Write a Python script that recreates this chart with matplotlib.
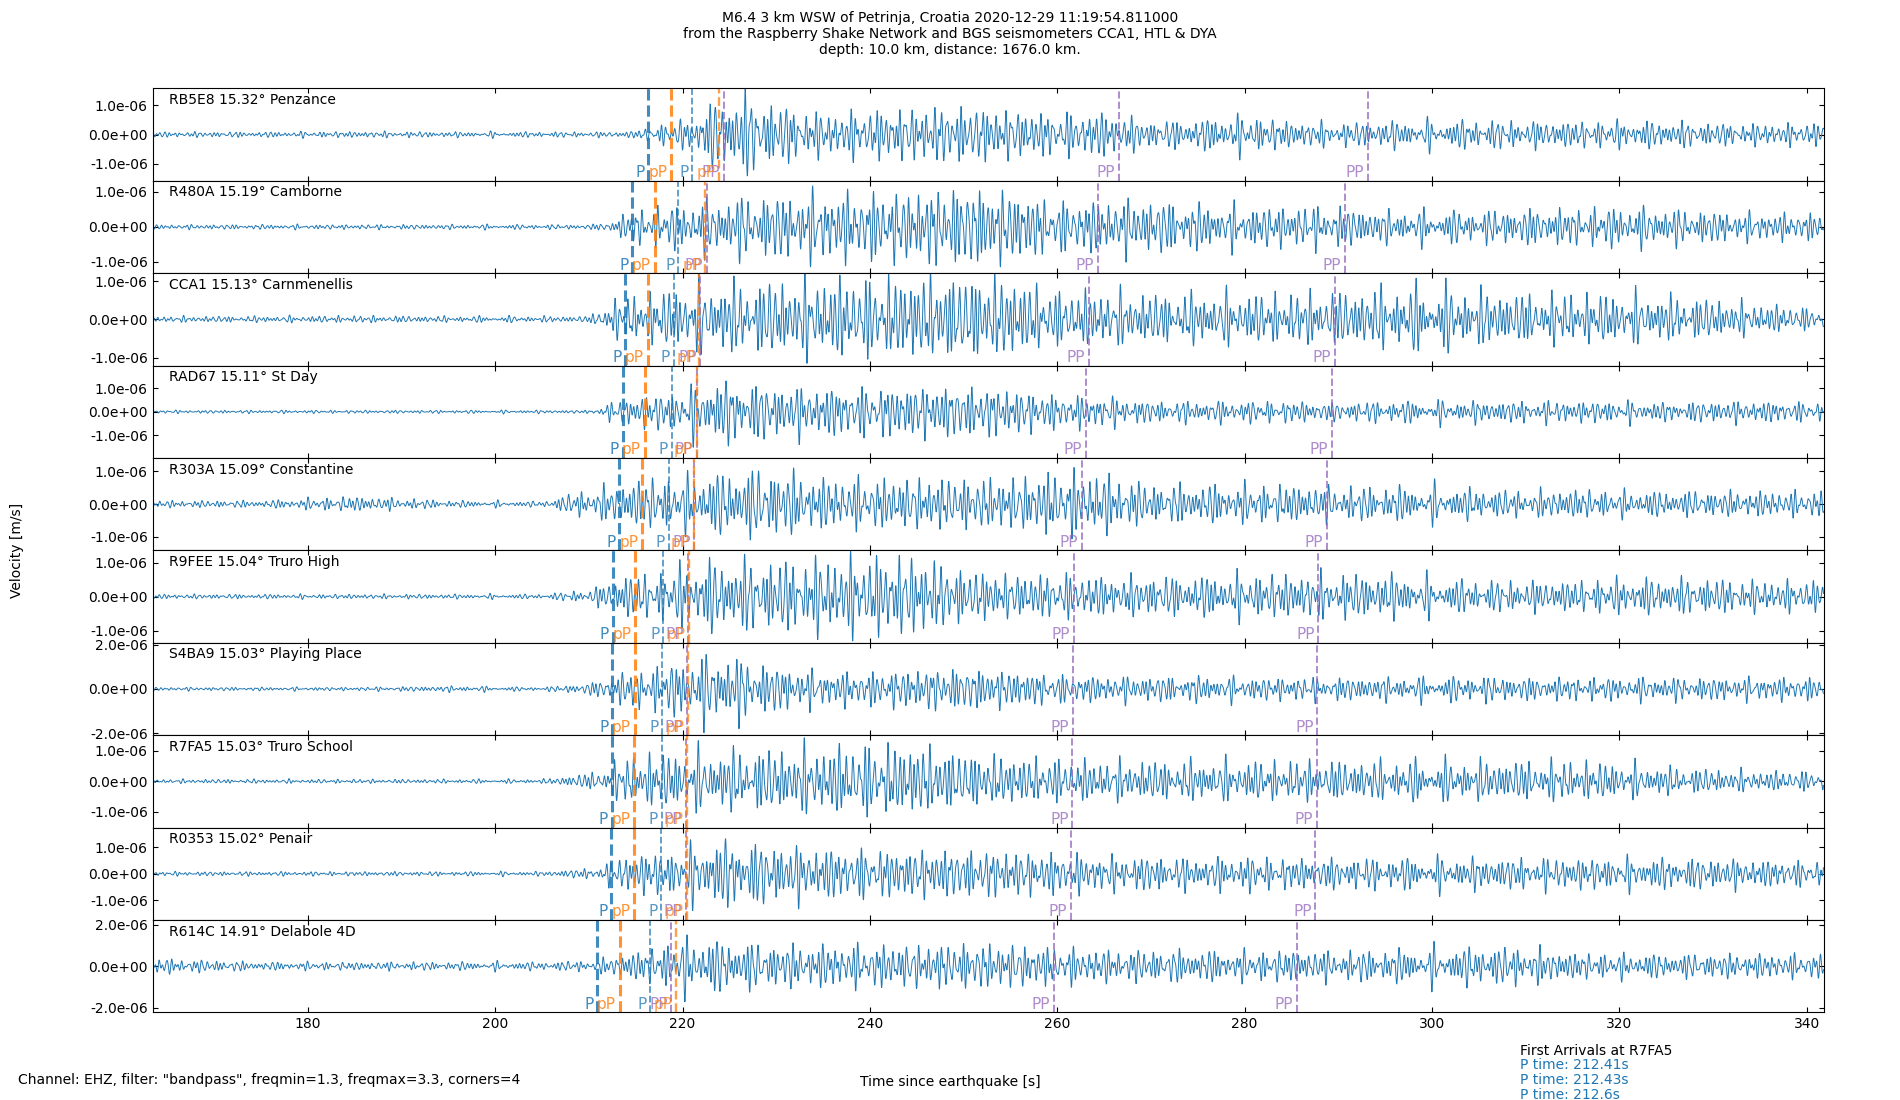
import numpy as np
import matplotlib
matplotlib.use('Agg')
import matplotlib.pyplot as plt
from matplotlib.ticker import FormatStrFormatter


# stations, top to bottom
stations = ['RB5E8', 'R480A', 'CCA1', 'RAD67', 'R303A', 'R9FEE', 'S4BA9', 'R7FA5', 'R0353', 'R614C']
distances = [15.32, 15.19, 15.13, 15.11, 15.09, 15.04, 15.03, 15.03, 15.02, 14.91]
places = ['Penzance', 'Camborne', 'Carnmenellis', 'St Day', 'Constantine', 'Truro High',
          'Playing Place', 'Truro School', 'Penair', 'Delabole 4D']

# y limits (+/- value, m/s) and y tick step of each panel
y_limits = [1.58e-6, 1.32e-6, 1.21e-6, 1.96e-6, 1.41e-6, 1.36e-6, 2.09e-6, 1.52e-6, 1.74e-6, 2.23e-6]
y_steps = [1e-6, 1e-6, 1e-6, 1e-6, 1e-6, 1e-6, 2e-6, 1e-6, 1e-6, 2e-6]

# predicted arrival times [s]
p_first = [216.31, 214.61, 213.86, 213.60, 213.22, 212.54, 212.48, 212.44, 212.37, 210.88]
pp_depth_first = [218.76, 217.01, 216.27, 215.95, 215.70, 214.96, 214.88, 214.85, 214.82, 213.29]
p_second = [221.05, 219.56, 219.03, 218.82, 218.54, 217.94, 217.83, 217.76, 217.72, 216.52]
pp_depth_second = [223.89, 222.44, 221.80, 221.52, 221.20, 220.67, 220.60, 220.52, 220.50, 219.32]
pp_early = [224.43, 222.59, 221.90, 221.55, 221.25, 220.56, 220.45, 220.38, 220.38, 218.79]
pp_mid = [266.55, 264.32, 263.37, 263.05, 262.59, 261.74, 261.63, 261.60, 261.45, 259.60]
pp_late = [293.15, 290.73, 289.66, 289.34, 288.81, 287.86, 287.75, 287.68, 287.54, 285.56]

# first arrivals listed for the reference station
ref_station = 'R7FA5'
ref_p_times = [212.41, 212.43, 212.6]

# amplitude envelope (units of 1e-6 m/s) at these times
env_times = [163, 175, 185, 195, 205, 210, 212, 214, 216, 218, 220, 223, 226, 230, 235, 240, 245, 250,
             255, 260, 265, 270, 275, 280, 285, 290, 295, 300, 305, 310, 315, 320, 325, 330, 335, 342]
env_rb5e8 = [0.07, 0.07, 0.08, 0.07, 0.07, 0.07, 0.07, 0.08, 0.15, 0.3, 0.35, 0.8, 1.1, 0.8, 0.55, 0.65, 0.7, 0.75,
             0.65, 0.55, 0.6, 0.35, 0.4, 0.5, 0.35, 0.3, 0.35, 0.35, 0.38, 0.35, 0.35, 0.35, 0.35, 0.3, 0.28, 0.3]
env_r480a = [0.05, 0.05, 0.05, 0.05, 0.05, 0.05, 0.1, 0.3, 0.45, 0.45, 0.5, 0.6, 0.65, 0.7, 0.75, 0.75, 0.8, 0.9,
             0.8, 0.55, 0.6, 0.6, 0.5, 0.45, 0.45, 0.45, 0.35, 0.35, 0.35, 0.4, 0.4, 0.45, 0.4, 0.35, 0.3, 0.3]
env_cca1 = [0.06, 0.06, 0.07, 0.06, 0.06, 0.06, 0.3, 0.45, 0.5, 0.55, 0.65, 0.7, 0.7, 0.75, 0.8, 0.8, 0.85, 0.85,
            0.8, 0.55, 0.55, 0.5, 0.5, 0.5, 0.5, 0.55, 0.6, 0.65, 0.55, 0.5, 0.5, 0.5, 0.45, 0.4, 0.3, 0.2]
env_rad67 = [0.05, 0.05, 0.05, 0.05, 0.05, 0.05, 0.25, 0.45, 0.55, 0.6, 0.7, 1.0, 1.0, 0.85, 0.8, 0.8, 0.85, 0.85,
             0.75, 0.55, 0.5, 0.35, 0.35, 0.35, 0.35, 0.3, 0.35, 0.35, 0.35, 0.35, 0.35, 0.35, 0.3, 0.35, 0.35, 0.3]
env_r303a = [0.08, 0.08, 0.18, 0.08, 0.06, 0.35, 0.4, 0.5, 0.6, 0.6, 0.6, 0.7, 0.8, 0.8, 0.6, 0.6, 0.6, 0.6,
             0.6, 0.75, 0.7, 0.45, 0.45, 0.45, 0.45, 0.4, 0.4, 0.4, 0.35, 0.3, 0.35, 0.3, 0.3, 0.3, 0.3, 0.3]
env_r9fee = [0.05, 0.05, 0.05, 0.05, 0.05, 0.15, 0.3, 0.5, 0.5, 0.55, 0.7, 0.8, 0.8, 0.8, 0.85, 0.9, 0.9, 0.6,
             0.5, 0.5, 0.45, 0.45, 0.45, 0.5, 0.5, 0.5, 0.5, 0.4, 0.35, 0.35, 0.35, 0.4, 0.4, 0.4, 0.35, 0.35]
env_s4ba9 = [0.06, 0.06, 0.06, 0.1, 0.06, 0.2, 0.4, 0.6, 0.75, 0.8, 1.0, 1.2, 1.1, 0.8, 0.6, 0.6, 0.7, 0.75,
             0.65, 0.5, 0.45, 0.45, 0.45, 0.4, 0.4, 0.4, 0.4, 0.4, 0.45, 0.4, 0.4, 0.4, 0.4, 0.4, 0.4, 0.4]
env_r7fa5 = [0.05, 0.05, 0.05, 0.05, 0.05, 0.2, 0.35, 0.6, 0.65, 0.7, 0.7, 0.75, 0.75, 0.8, 0.85, 0.9, 0.9, 0.7,
             0.6, 0.55, 0.5, 0.5, 0.5, 0.5, 0.5, 0.5, 0.5, 0.5, 0.5, 0.5, 0.5, 0.45, 0.35, 0.3, 0.25, 0.25]
env_r0353 = [0.06, 0.06, 0.06, 0.06, 0.06, 0.15, 0.3, 0.55, 0.6, 0.6, 0.7, 0.95, 0.95, 0.85, 0.75, 0.7, 0.7, 0.7,
             0.65, 0.6, 0.5, 0.5, 0.45, 0.5, 0.45, 0.45, 0.45, 0.45, 0.45, 0.45, 0.45, 0.45, 0.45, 0.45, 0.4, 0.35]
env_r614c = [0.3, 0.15, 0.15, 0.15, 0.15, 0.2, 0.3, 0.5, 0.6, 0.8, 1.0, 1.0, 0.9, 0.8, 0.8, 0.8, 0.8, 0.85,
             0.8, 0.7, 0.6, 0.6, 0.6, 0.55, 0.6, 0.55, 0.6, 0.65, 0.7, 0.7, 0.5, 0.45, 0.45, 0.45, 0.45, 0.45]
envelopes = [env_rb5e8, env_r480a, env_cca1, env_rad67, env_r303a,
             env_r9fee, env_s4ba9, env_r7fa5, env_r0353, env_r614c]

t_start, t_end = 163.44, 341.8

title = ('M6.4 3 km WSW of Petrinja, Croatia 2020-12-29 11:19:54.811000\n'
         'from the Raspberry Shake Network and BGS seismometers CCA1, HTL & DYA\n'
         'depth: 10.0 km, distance: 1676.0 km.')
filter_note = 'Channel: EHZ, filter: "bandpass", freqmin=1.3, freqmax=3.3, corners=4'

BLUE, ORANGE, PURPLE = 'C0', 'C1', 'C4'


def trace(num, times):

    """
    Trace drawn under the envelope read from the picture,
    carrier is a band limited wiggle (1.3 - 3.3 Hz)
    """
    freqs = [1.33, 1.58, 1.87, 2.13, 2.47, 2.91]
    wiggle = np.zeros(len(times))
    for k, f in enumerate(freqs):
        wiggle += np.sin(2 * np.pi * f * times + 0.7 * k + 1.3 * num * (k + 1))
    wiggle /= 1.7 * np.sqrt(np.mean(wiggle ** 2))
    env = np.interp(times, env_times, envelopes[num]) * 1e-6
    return env * wiggle


def mark_phase(ax, t, name, color, lw, alpha=0.75):

    """
    Dashed arrival line with its label at the bottom left of it
    """
    ax.axvline(t, color=color, ls='--', lw=lw, alpha=alpha)
    ax.text(t - 0.4, 0.005, name, color=color, alpha=alpha, fontsize=11,
            ha='right', va='bottom', transform=ax.get_xaxis_transform())


def main():

    fig = plt.figure(figsize=(19, 11), dpi=100)
    axes = fig.subplots(len(stations), 1, sharex=True)
    fig.subplots_adjust(left=0.0804, right=0.9598, top=0.9197, bottom=0.0797, hspace=0)

    times = np.arange(t_start, t_end, 0.02)
    for num, ax in enumerate(axes):
        ax.plot(times, trace(num, times), color=BLUE, lw=0.7)

        mark_phase(ax, p_first[num], 'P', BLUE, 2.2, 0.85)
        mark_phase(ax, pp_depth_first[num], 'pP', ORANGE, 2.2, 0.85)
        mark_phase(ax, p_second[num], 'P', BLUE, 1.3)
        mark_phase(ax, pp_early[num], 'PP', PURPLE, 1.4)
        mark_phase(ax, pp_depth_second[num], 'pP', ORANGE, 1.7)
        mark_phase(ax, pp_mid[num], 'PP', PURPLE, 1.4)
        mark_phase(ax, pp_late[num], 'PP', PURPLE, 1.4)

        ax.text(0.01, 0.95, '%s %.2f° %s' % (stations[num], distances[num], places[num]),
                transform=ax.transAxes, ha='left', va='top', fontsize=10)

        lim, step = y_limits[num], y_steps[num]
        ax.set_ylim(-lim, lim)
        ax.set_yticks([-step, 0, step])
        ax.yaxis.set_major_formatter(FormatStrFormatter('%.1e'))
        ax.tick_params(direction='in', top=True, right=True, labelsize=10)

    axes[-1].set_xlim(t_start, t_end)
    axes[-1].set_xticks(np.arange(180, 341, 20))

    fig.text(0.5, 0.99, title, ha='center', va='top', fontsize=10)
    fig.text(0.009, 0.5, 'Velocity [m/s]', rotation=90, ha='center', va='center', fontsize=10)
    fig.text(0.0095, 0.0179, filter_note, ha='left', va='center', fontsize=10)
    fig.text(0.5, 0.0166, 'Time since earthquake [s]', ha='center', va='center', fontsize=10)

    fig.text(0.8, 0.0448, 'First Arrivals at ' + ref_station, ha='left', va='center', fontsize=10)
    for i, pt in enumerate(ref_p_times):
        fig.text(0.8, 0.0315 - i * 0.0133, 'P time: %ss' % round(pt, 2), color=BLUE,
                 ha='left', va='center', fontsize=10)

    fig.savefig('out.png', dpi=100)


if __name__ == '__main__':
    main()
